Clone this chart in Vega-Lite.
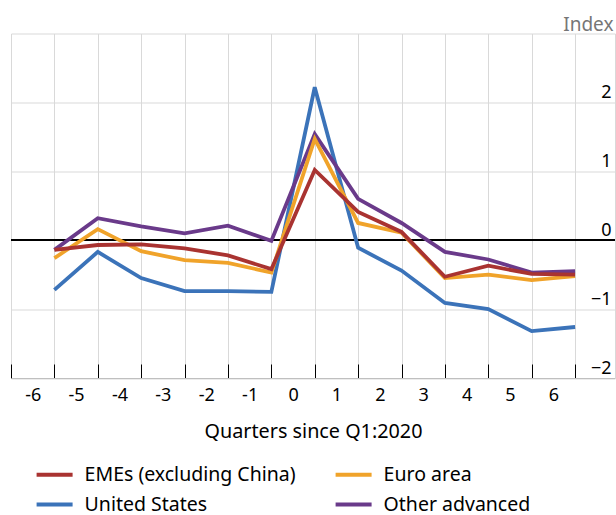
{
  "$schema": "https://vega.github.io/schema/vega-lite/v6.json",
  "width": 604,
  "height": 344.5,
  "autosize": {"type": "none"},
  "padding": {"left": 11, "top": 33.5, "right": 1, "bottom": 137},
  "config": {"view": {"stroke": null}, "font": "Noto Sans"},
  "data": {
    "values": [
      {"q": -5.5, "series": "United States", "v": -0.72},
      {"q": -4.5, "series": "United States", "v": -0.17},
      {"q": -3.5, "series": "United States", "v": -0.55},
      {"q": -2.5, "series": "United States", "v": -0.74},
      {"q": -1.5, "series": "United States", "v": -0.74},
      {"q": -0.5, "series": "United States", "v": -0.75},
      {"q": 0.5, "series": "United States", "v": 2.22},
      {"q": 1.5, "series": "United States", "v": -0.11},
      {"q": 2.5, "series": "United States", "v": -0.44},
      {"q": 3.5, "series": "United States", "v": -0.91},
      {"q": 4.5, "series": "United States", "v": -1.0},
      {"q": 5.5, "series": "United States", "v": -1.32},
      {"q": 6.5, "series": "United States", "v": -1.26},
      {"q": -5.5, "series": "Other advanced", "v": -0.14},
      {"q": -4.5, "series": "Other advanced", "v": 0.32},
      {"q": -3.5, "series": "Other advanced", "v": 0.2},
      {"q": -2.5, "series": "Other advanced", "v": 0.1},
      {"q": -1.5, "series": "Other advanced", "v": 0.21},
      {"q": -0.5, "series": "Other advanced", "v": -0.01},
      {"q": 0.5, "series": "Other advanced", "v": 1.54},
      {"q": 1.5, "series": "Other advanced", "v": 0.6},
      {"q": 2.5, "series": "Other advanced", "v": 0.25},
      {"q": 3.5, "series": "Other advanced", "v": -0.17},
      {"q": 4.5, "series": "Other advanced", "v": -0.28},
      {"q": 5.5, "series": "Other advanced", "v": -0.47},
      {"q": 6.5, "series": "Other advanced", "v": -0.45},
      {"q": -5.5, "series": "Euro area", "v": -0.26},
      {"q": -4.5, "series": "Euro area", "v": 0.16},
      {"q": -3.5, "series": "Euro area", "v": -0.16},
      {"q": -2.5, "series": "Euro area", "v": -0.29},
      {"q": -1.5, "series": "Euro area", "v": -0.33},
      {"q": -0.5, "series": "Euro area", "v": -0.47},
      {"q": 0.5, "series": "Euro area", "v": 1.47},
      {"q": 1.5, "series": "Euro area", "v": 0.25},
      {"q": 2.5, "series": "Euro area", "v": 0.11},
      {"q": 3.5, "series": "Euro area", "v": -0.55},
      {"q": 4.5, "series": "Euro area", "v": -0.5},
      {"q": 5.5, "series": "Euro area", "v": -0.58},
      {"q": 6.5, "series": "Euro area", "v": -0.52},
      {"q": -5.5, "series": "EMEs (excluding China)", "v": -0.14},
      {"q": -4.5, "series": "EMEs (excluding China)", "v": -0.07},
      {"q": -3.5, "series": "EMEs (excluding China)", "v": -0.06},
      {"q": -2.5, "series": "EMEs (excluding China)", "v": -0.12},
      {"q": -1.5, "series": "EMEs (excluding China)", "v": -0.22},
      {"q": -0.5, "series": "EMEs (excluding China)", "v": -0.42},
      {"q": 0.5, "series": "EMEs (excluding China)", "v": 1.02},
      {"q": 1.5, "series": "EMEs (excluding China)", "v": 0.41},
      {"q": 2.5, "series": "EMEs (excluding China)", "v": 0.12},
      {"q": 3.5, "series": "EMEs (excluding China)", "v": -0.53},
      {"q": 4.5, "series": "EMEs (excluding China)", "v": -0.37},
      {"q": 5.5, "series": "EMEs (excluding China)", "v": -0.49},
      {"q": 6.5, "series": "EMEs (excluding China)", "v": -0.5}
    ]
  },
  "layer": [
    {
      "mark": {"type": "rule", "color": "#000000", "strokeWidth": 1.3},
      "encoding": {
        "y": {
          "datum": 0,
          "type": "quantitative",
          "scale": {"domain": [-2, 3], "nice": false},
          "axis": {
            "orient": "right",
            "values": [-2, -1, 0, 1, 2, 3],
            "format": "d",
            "grid": true,
            "gridColor": "#d9d9d9",
            "gridOpacity": {"condition": {"test": "datum.value === 0", "value": 0}, "value": 1},
            "ticks": false,
            "domain": true,
            "domainColor": "#d9d9d9",
            "labelAlign": "right",
            "labelBaseline": "alphabetic",
            "labelPadding": -4,
            "labelOffset": -5,
            "labelFontSize": 18,
            "labelColor": "#000000",
            "labelExpr": "datum.value === 3 ? '' : datum.label",
            "title": "Index",
            "titleAngle": 0,
            "titleAlign": "right",
            "titleBaseline": "alphabetic",
            "titleX": -2,
            "titleY": -3,
            "titleFontSize": 19,
            "titleFontWeight": "normal",
            "titleColor": "#767676"
          }
        }
      }
    },
    {
      "mark": {"type": "line", "strokeWidth": 3.8},
      "encoding": {
        "x": {
          "field": "q",
          "type": "quantitative",
          "scale": {"domain": [-6.5, 7.42], "nice": false, "zero": false},
          "axis": {
            "values": [-6.5, -5.5, -4.5, -3.5, -2.5, -1.5, -0.5, 0.5, 1.5, 2.5, 3.5, 4.5, 5.5, 6.5],
            "grid": true,
            "gridColor": "#d9d9d9",
            "gridWidth": 1,
            "tickColor": "#000000",
            "tickWidth": 1,
            "tickSize": -14,
            "domainColor": "#bfbfbf",
            "labelExpr": "datum.value < 6 ? toString(datum.value + 0.5) : ''",
            "labelOffset": 21.7,
            "labelFontSize": 18,
            "labelColor": "#000000",
            "labelPadding": 22,
            "labelFlush": false,
            "labelOverlap": false,
            "title": "Quarters since Q1:2020",
            "titleFontSize": 19.8,
            "titleFontWeight": "normal",
            "titleColor": "#000000",
            "titlePadding": 17
          }
        },
        "y": {
          "field": "v",
          "type": "quantitative",
          "scale": {"domain": [-2, 3], "nice": false}
        },
        "color": {
          "field": "series",
          "type": "nominal",
          "scale": {
            "domain": ["EMEs (excluding China)", "Euro area", "United States", "Other advanced"],
            "range": ["#A93331", "#F0A32A", "#3B73B9", "#6A3A8A"]
          },
          "legend": {
            "orient": "none",
            "legendX": 23.6,
            "legendY": 421,
            "direction": "horizontal",
            "columns": 2,
            "title": null,
            "symbolType": "stroke",
            "symbolSize": 1296,
            "symbolStrokeWidth": 4,
            "rowPadding": -8.5,
            "columnPadding": 32,
            "labelOffset": 10,
            "labelFontSize": 19.5,
            "labelColor": "#000000",
            "labelLimit": 400,
            "padding": 0
          }
        }
      }
    }
  ]
}
